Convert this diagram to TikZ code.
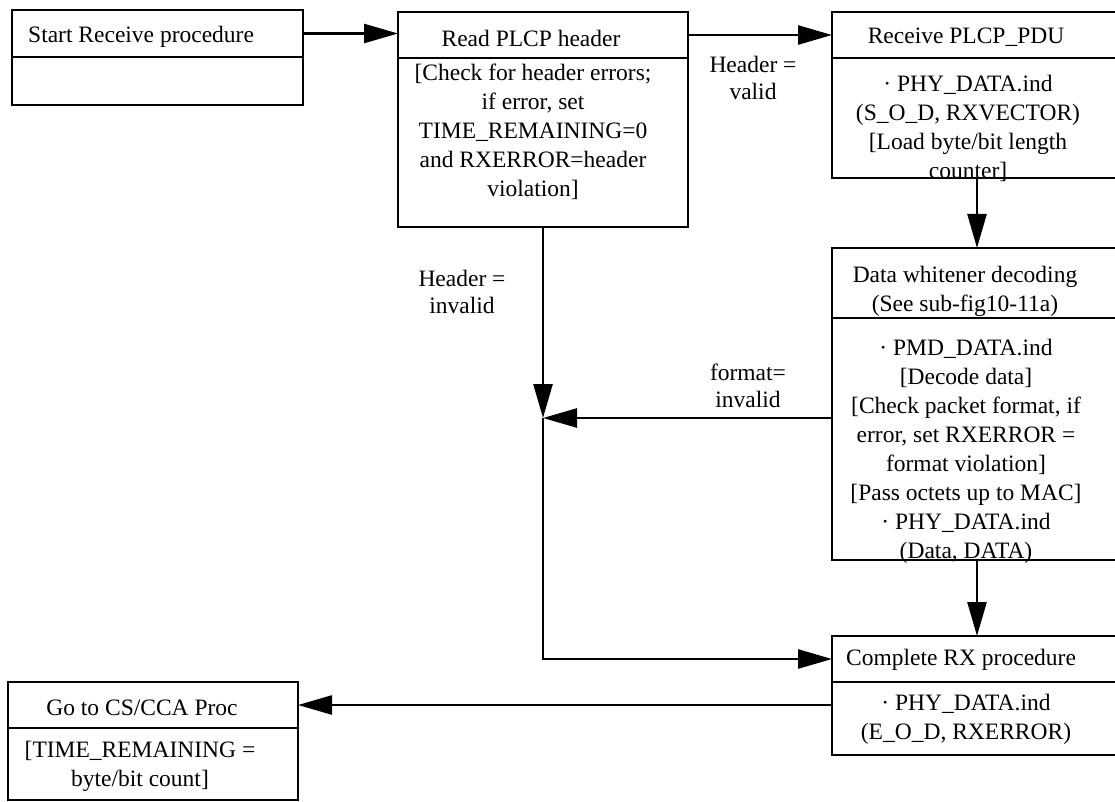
\documentclass[tikz,border=0pt]{standalone}
\usepackage{fontspec}
\setmainfont{Liberation Serif}
\usetikzlibrary{arrows.meta}
\begin{document}
\begin{tikzpicture}[x=1pt,y=-1pt,
  cell/.style n args={2}{draw, line width=2.8pt, minimum width=#1, minimum height=#2, inner sep=0pt, outer sep=0pt, anchor=north west},
  arr/.style={line width=2.6pt, -{Triangle[length=34pt,width=19pt]}},
  txt/.style={inner sep=0pt, font=\fontsize{23.5}{29}\selectfont, align=center},
  lbl/.style={inner sep=0pt, font=\fontsize{23.5}{27.5}\selectfont, align=center}]
\useasboundingbox (0,0) rectangle (1115,802);
% boxes
\node[cell={291pt}{47pt}] (b1t) at (12,10) {};
\node[cell={291pt}{48pt}] (b1b) at (12,57) {};
\node[cell={290pt}{46pt}] (b2t) at (398,12) {};
\node[cell={290pt}{169pt}] (b2b) at (398,58) {};
\node[cell={290pt}{46pt}] (b3t) at (832,12) {};
\node[cell={290pt}{120pt}] (b3b) at (832,58) {};
\node[cell={290pt}{70pt}] (b4t) at (832,248) {};
\node[cell={290pt}{242pt}] (b4b) at (832,318) {};
\node[cell={290pt}{46pt}] (b5t) at (832,636) {};
\node[cell={290pt}{73pt}] (b5b) at (832,682) {};
\node[cell={290pt}{46pt}] (b6t) at (8,682) {};
\node[cell={290pt}{72pt}] (b6b) at (8,728) {};
% texts
\node[txt, anchor=west] (t1) at (28,37) {Start Receive procedure};
\node[txt] (t2) at (531,38) {Read PLCP header};
\node[txt] (t2b) at (533,132) {[Check for header errors;\\if error, set\\TIME\_REMAINING=0\\and RXERROR=header\\violation]};
\node[txt] (t3) at (966,37) {Receive PLCP\_PDU};
\node[txt] (t3b) at (968,128) {· PHY\_DATA.ind\\(S\_O\_D, RXVECTOR)\\[0pt][Load byte/bit length\\counter]};
\node[txt] (t4) at (965,291) {Data whitener decoding\\(See sub-fig10-11a)};
\node[txt] (t4b) at (966,451) {· PMD\_DATA.ind\\[0pt][Decode data]\\[0pt][Check packet format, if\\error, set RXERROR =\\format violation]\\[0pt][Pass octets up to MAC]\\· PHY\_DATA.ind\\(Data, DATA)};
\node[txt, anchor=west] (t5) at (846,660) {Complete RX procedure};
\node[txt] (t5b) at (966,719) {· PHY\_DATA.ind\\(E\_O\_D, RXERROR)};
\node[txt] (t6) at (142,708) {Go to CS/CCA Proc};
\node[txt] (t6b) at (140,766) {[TIME\_REMAINING =\\byte/bit count]};
% labels
\node[lbl] (l1) at (753,78) {Header =\\valid};
\node[lbl] (l2) at (462,292) {Header =\\invalid};
\node[lbl] (l3) at (748,386) {format=\\invalid};
% connectors
\coordinate (j) at ([yshift=-191pt]b2b.south);
\draw[arr] (b1t.east) -- (b1t.east -| b2t.west);
\draw[arr] (b2t.east) -- (b3t.west);
\draw[arr] (b3b.south) -- (b4t.north);
\draw[arr] (b4b.south) -- (b5t.north);
\draw[arr] (b2b.south) -- (j);
\draw[arr] (b4b.west |- j) -- (j);
\draw[arr] (j) |- (b5t.west);
\draw[arr] (b5b.west |- b6t.east) -- (b6t.east);
\end{tikzpicture}
\end{document}
